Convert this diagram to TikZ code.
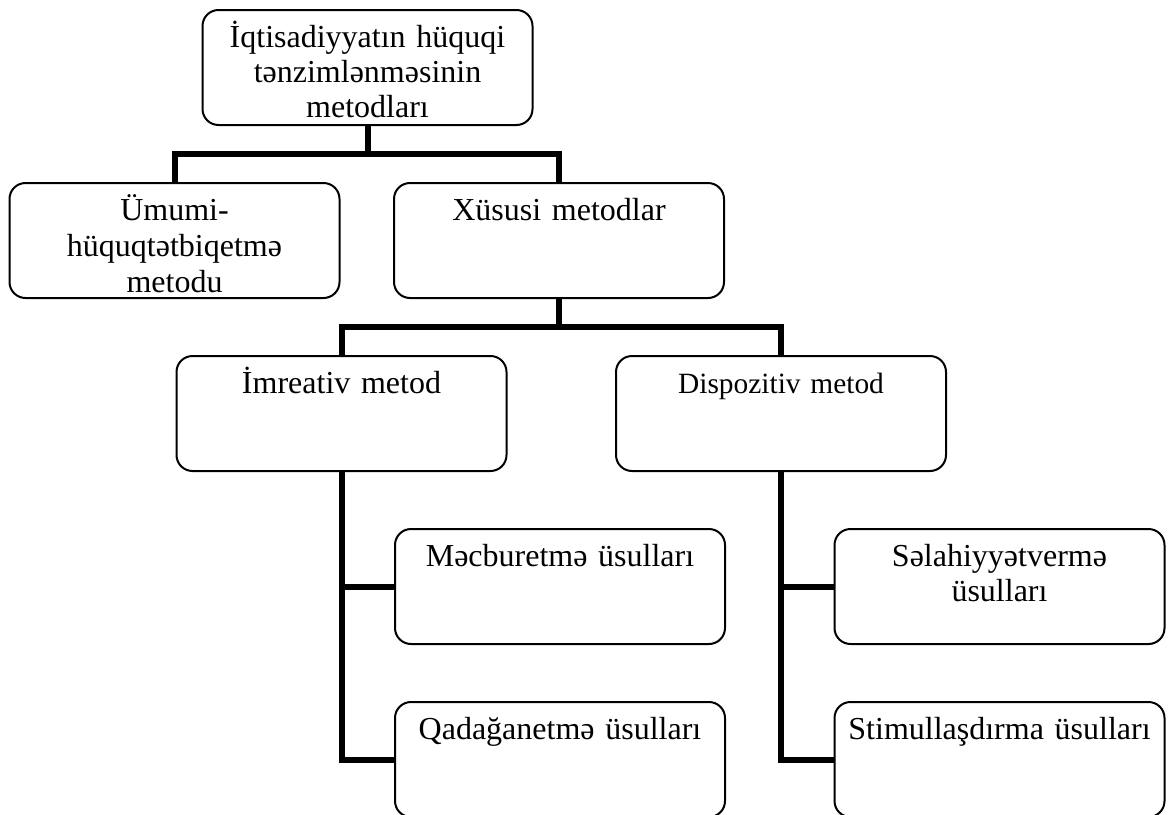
\documentclass[tikz,border=0pt]{standalone}
\usepackage{fontspec}
\setmainfont{Liberation Serif}
\usetikzlibrary{calc}

\begin{document}
\begin{tikzpicture}[x=0.5pt,y=-0.5pt,
  kutu/.style={draw,line width=1pt,rounded corners=8pt,fill=white,
    text width=155pt,align=center,inner xsep=5pt,inner ysep=2pt,
    text height=16.5pt,text depth=37pt,font=\fontsize{16}{17.5}\selectfont},
  xett/.style={line width=3pt}]
\useasboundingbox (0,0) rectangle (1171,814);
\node[kutu] (ana) at (367.5,67.5) {İqtisadiyyatın hüquqi\\tənzimlənməsinin\\metodları};
\node[kutu,font=\fontsize{16}{18}\selectfont] (umumi) at (174.5,240.5) {Ümumi-\\hüquqtətbiqetmə\\metodu};
\node[kutu] (xus) at (559,240.5) {Xüsusi metodlar};
\node[kutu] (imr) at (341.5,413.5) {İmreativ metod};
\node[kutu,font=\fontsize{14.7}{17}\selectfont] (disp) at (781,413.5) {Dispozitiv metod};
\node[kutu] (mec) at (560,586.5) {Məcburetmə üsulları};
\node[kutu] (qad) at (560,759.5) {Qadağanetmə üsulları};
\node[kutu] (sel) at (999.5,586.5) {Səlahiyyətvermə\\üsulları};
\node[kutu] (stim) at (999.5,759.5) {Stimullaşdırma üsulları};
% budaqlar
\coordinate (y1) at ($(ana.south)!.5!(xus.north)$);
\draw[xett] (umumi.north) |- (y1) -| (xus.north);
\draw[xett] (ana.south) -- (ana.south |- y1);
\coordinate (y2) at ($(xus.south)!.5!(imr.north)$);
\draw[xett] (imr.north) |- (y2) -| (disp.north);
\draw[xett] (xus.south) -- (xus.south |- y2);
\draw[xett] (imr.south) |- (qad.west);
\draw[xett] (imr.south |- mec.west) -- (mec.west);
\draw[xett] (disp.south) |- (stim.west);
\draw[xett] (disp.south |- sel.west) -- (sel.west);
\end{tikzpicture}
\end{document}
